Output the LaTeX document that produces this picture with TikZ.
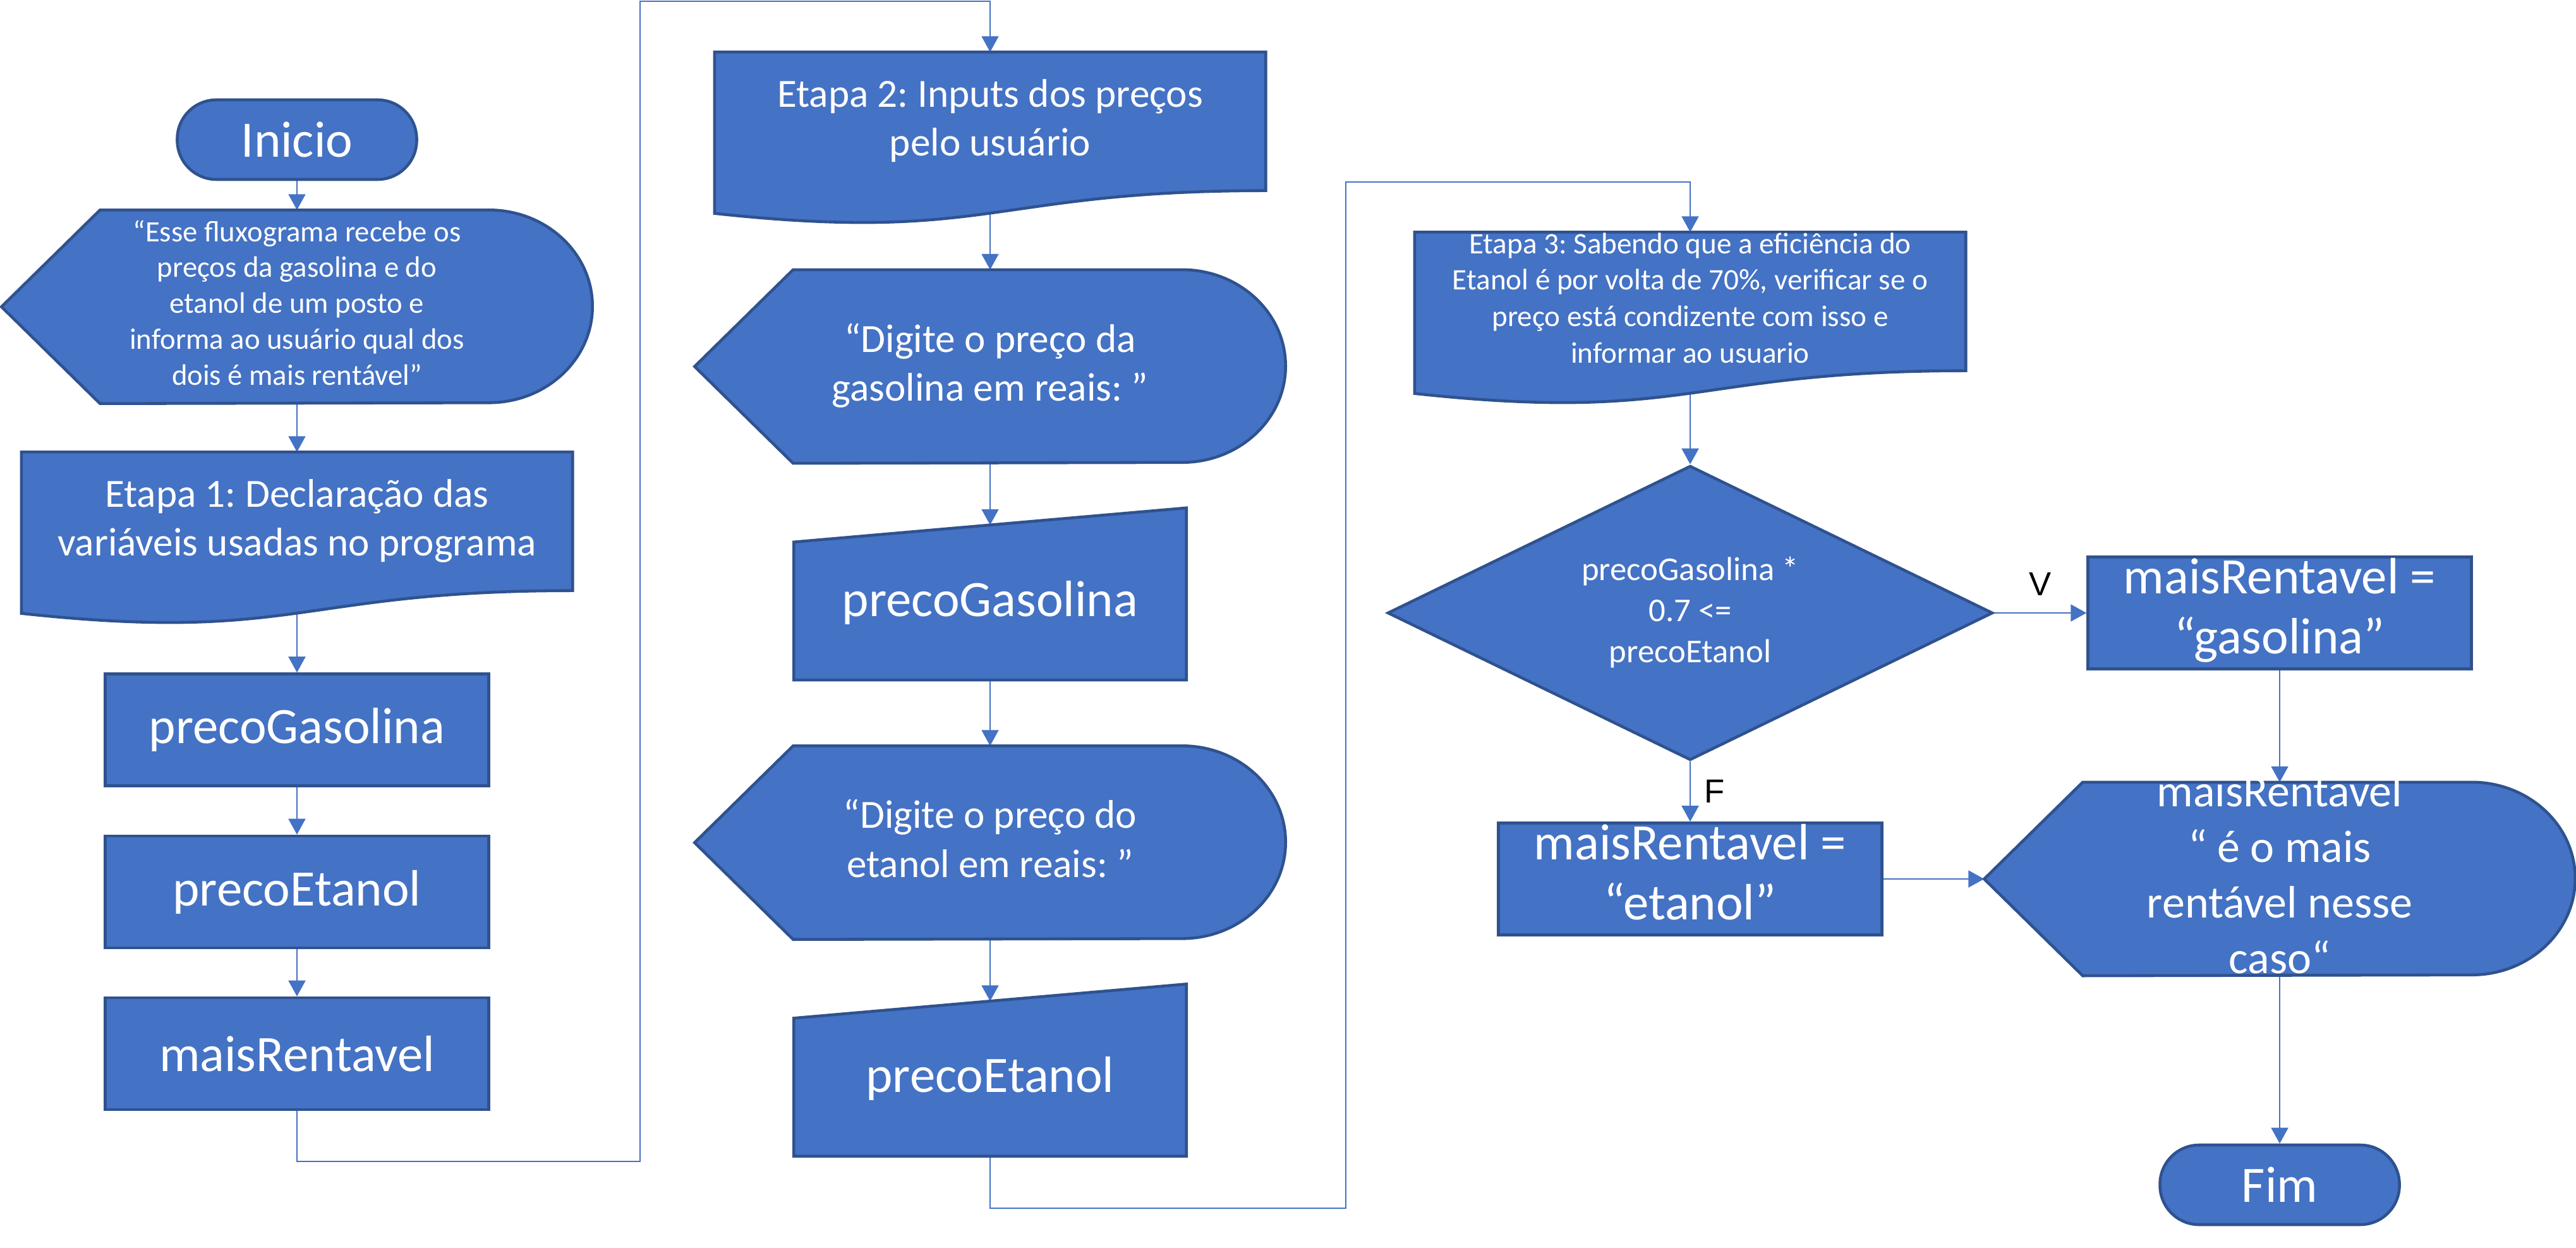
\documentclass[tikz,border=0pt]{standalone}
\usepackage{fontspec}
\setmainfont{Carlito}
\newfontfamily\arialf{Liberation Sans}
\usepackage{tikz}
\usetikzlibrary{arrows.meta, shapes.geometric, backgrounds}
\definecolor{fillblue}{HTML}{4472C4}
\definecolor{lineblue}{HTML}{2F528F}
\frenchspacing
\newcommand{\boxtext}[1]{\smash{\raisebox{-0.25em}{\begin{tabular}{@{}c@{}}#1\end{tabular}}}}

\begin{document}
\begin{tikzpicture}[
        shp/.style={fill=fillblue, draw=lineblue, line width=1.3pt},
        term/.style={shp, rectangle, rounded corners=0.62cm, minimum width=3.79cm, minimum height=1.26cm, text=white, font=\fontsize{23}{27}\selectfont},
        proc/.style={shp, rectangle, minimum width=6.07cm, minimum height=1.77cm, inner sep=0pt, text=white, font=\fontsize{23}{27}\selectfont},
        disp/.style={rectangle, minimum width=9.34cm, minimum height=3.05cm, inner sep=0pt, text=white, font=\fontsize{18}{22}\selectfont},
        doc/.style={rectangle, minimum width=8.71cm, minimum height=2.18cm, inner sep=0pt, text=white, font=\fontsize{18}{22}\selectfont},
        man/.style={rectangle, minimum width=6.20cm, minimum height=2.44cm, inner sep=0pt, text=white, font=\fontsize{23}{27}\selectfont},
        ask/.style={shp, diamond, minimum width=9.58cm, minimum height=4.66cm, inner sep=0pt, text=white, font=\fontsize{15}{18.4}\selectfont},
        conn/.style={draw=fillblue, line width=0.6pt, -{Triangle[length=0.25cm, width=0.27cm]}},
        lbl/.style={font=\arialf\fontsize{15}{18}\selectfont}
    ]
        \useasboundingbox (0,0) rectangle (40.77,-19.75);

        % coluna 1
        \node[term] (ini) at (4.70,-2.21) {Inicio};
        \node[disp, font=\fontsize{13.3}{16.2}\selectfont] (msg) at (4.70,-4.855) {\boxtext{“Esse fluxograma recebe os\\ preços da gasolina e do\\ etanol de um posto e\\ informa ao usuário qual dos\\ dois é mais rentável”}};
        \node[doc] (e1) at (4.70,-8.25) {\boxtext{Etapa 1: Declaração das\\ variáveis usadas no programa}};
        \node[proc] (vG) at (4.70,-11.55) {precoGasolina};
        \node[proc] (vE) at (4.70,-14.115) {precoEtanol};
        \node[proc] (vR) at (4.70,-16.675) {maisRentavel};

        % coluna 2
        \node[doc] (e2) at (15.67,-1.92) {\boxtext{Etapa 2: Inputs dos preços\\ pelo usuário}};
        \node[disp] (digG) at (15.67,-5.80) {\boxtext{“Digite o preço da\\ gasolina em reais: ”}};
        \node[man] (inG) at (15.67,-9.535) {precoGasolina};
        \node[disp] (digE) at (15.67,-13.335) {\boxtext{“Digite o preço do\\ etanol em reais: ”}};
        \node[man] (inE) at (15.67,-17.07) {precoEtanol};

        % coluna 3
        \node[doc, font=\fontsize{13.4}{16.4}\selectfont] (e3) at (26.75,-4.77) {\boxtext{Etapa 3: Sabendo que a eficiência do\\ Etanol é por volta de 70\%, verificar se o\\ preço está condizente com isso e\\ informar ao usuario}};
        \node[ask] (dec) at (26.75,-9.70) {\boxtext{precoGasolina *\\ 0.7 <=\\ precoEtanol}};
        \node[proc] (etn) at (26.75,-13.91) {\boxtext{maisRentavel =\\ “etanol”}};
        \node[proc] (gas) at (36.08,-9.70) {\boxtext{maisRentavel =\\ “gasolina”}};
        \node[disp, font=\fontsize{20.5}{25}\selectfont] (res) at (36.08,-13.91) {\boxtext{maisRentavel\\ “ é o mais\\ rentável nesse\\ caso“}};
        \node[term] (fim) at (36.08,-18.75) {Fim};

        \begin{scope}[on background layer]
            \draw[conn] (ini) -- (msg);
            \draw[conn] (msg) -- (e1);
            \draw[conn] (e1) -- (vG);
            \draw[conn] (vG) -- (vE);
            \draw[conn] (vE) -- (vR);
            \draw[conn] (vR.south) -- ++(0,-0.80) -| (10.13,-0.02) -| (e2.north);
            \draw[conn] (e2) -- (digG);
            \draw[conn] (digG) -- (inG);
            \draw[conn] (inG) -- (digE);
            \draw[conn] (digE) -- (inE);
            \draw[conn] (inE.south) -- ++(0,-0.82) -| (21.30,-2.88) -| (e3.north);
            \draw[conn] (e3) -- (dec);
            \draw[conn] (dec) -- node[lbl, above=0.15cm] {V} (gas);
            \draw[conn] (dec) -- node[lbl, right=0.1cm] {F} (etn);
            \draw[conn] (gas) -- (res);
            \draw[conn] (etn) -- (res);
            \draw[conn] (res) -- (fim);

            % contornos das formas
            \foreach \n in {msg,digG,digE,res}
                \filldraw[shp] (\n.west) -- ([xshift=1.56cm]\n.north west) -- ([xshift=-1.64cm]\n.north east)
                    arc[start angle=90, end angle=-90, x radius=1.64cm, y radius=1.525cm]
                    -- ([xshift=1.56cm]\n.south west) -- cycle;
            \foreach \n in {e1,e2,e3}
                \filldraw[shp] (\n.north west) -- (\n.north east) -- (\n.south east)
                    .. controls (\n.south) and ([yshift=-0.83cm]\n.south) .. ([yshift=-0.36cm]\n.south west) -- cycle;
            \foreach \n in {inG,inE}
                \filldraw[shp] (\n.south west) -- ([yshift=-0.27cm]\n.north west) -- ([yshift=0.27cm]\n.north east) -- (\n.south east) -- cycle;
        \end{scope}
    \end{tikzpicture}
\end{document}
